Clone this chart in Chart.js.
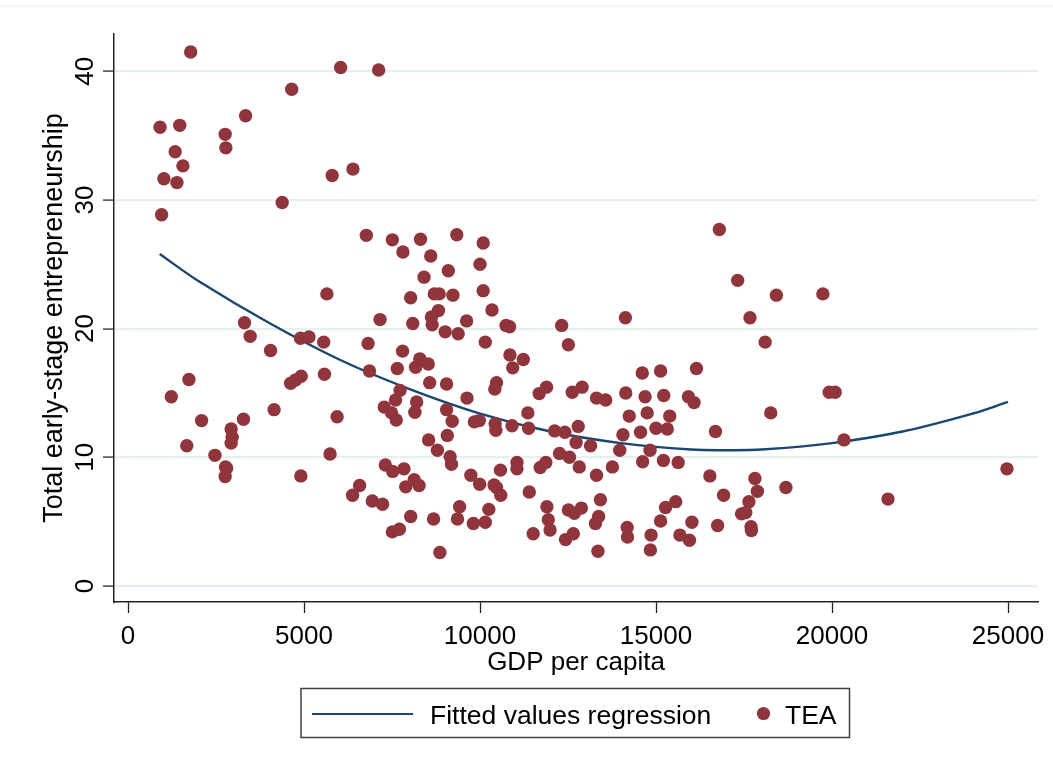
<!DOCTYPE html>
<html>
<head>
<meta charset="utf-8">
<script src="https://cdn.jsdelivr.net/npm/chart.js@4.4.1/dist/chart.umd.min.js"></script>
<style>
  html, body { margin: 0; padding: 0; background: #ffffff; }
  #wrap { width: 1053px; height: 764px; }
</style>
</head>
<body>
<div id="wrap"><canvas id="c" width="1053" height="764"></canvas></div>
<script>
// ---- data ----
const gdp = [
  1780, 6040, 7120, 4650, 910, 1470, 3340, 2760, 2780, 1340,
  1560, 1020, 1390, 5800, 6390, 4380, 955, 6770, 7510, 8310,
  7810, 8600, 8410, 8700, 8840, 8030, 5650, 9340, 9100, 9230,
  8820, 8620, 8640, 7160, 8090, 9010, 9380, 4900, 5140, 5560,
  6820, 7800, 8290, 8170, 8530, 7650, 6860, 4620, 4760, 4920,
  5580, 8570, 9050, 7730, 7600, 8200, 7280, 7490, 7620, 8150,
  9050, 9210, 5940, 8540, 8790, 9070, 9150, 9190, 5740, 4910,
  7310, 7520, 7840, 8130, 8270, 7890, 6580, 6380, 6940, 7230,
  8030, 8680, 9360, 9420, 7510, 7710, 8860, 3310, 3470, 4050,
  1730, 1230, 2090, 1670, 3280, 2930, 2960, 2930, 2470, 2770,
  2800, 2760, 4150, 10090, 10000, 10090, 10340, 9620, 10740, 10840,
  10150, 12320, 12510, 14130, 16800, 10850, 11230, 10930, 10470, 10420,
  9630, 11680, 11890, 12620, 12900, 13310, 13570, 14140, 14610, 15130,
  14690, 15220, 16150, 15920, 16080, 11360, 14240, 14750, 15390, 9840,
  9980, 10430, 10450, 10910, 11380, 12120, 12410, 12790, 12730, 13140,
  14060, 14560, 15000, 15320, 13970, 14830, 14620, 15210, 15630, 16690,
  16530, 16920, 16750, 9740, 9990, 10580, 10400, 10470, 10590, 11050,
  11050, 11710, 11870, 12260, 12540, 12820, 13310, 13760, 11400, 10250,
  9810, 10150, 11900, 11940, 11990, 11510, 12510, 12680, 12880, 12430,
  12650, 13420, 13370, 13280, 13350, 14180, 14190, 14860, 14840, 15130,
  15270, 15560, 15680, 15950, 16020, 17320, 18420, 19740, 17670, 18100,
  19920, 20090, 18260, 20340, 24970, 17810, 17880, 17640, 18690, 17430,
  17550, 17700, 17710, 21590
];
const tea = [
  41.5, 40.3, 40.1, 38.6, 35.65, 35.8, 36.55, 35.1, 34.05, 33.75,
  32.65, 31.65, 31.35, 31.9, 32.4, 29.8, 28.85, 27.25, 26.9, 26.95,
  25.95, 25.65, 24.0, 22.7, 22.7, 22.4, 22.7, 27.3, 24.5, 22.6,
  21.4, 20.9, 20.3, 20.7, 20.4, 19.75, 19.6, 19.25, 19.35, 18.95,
  18.85, 18.25, 17.65, 17.0, 17.25, 16.9, 16.7, 15.75, 16.0, 16.3,
  16.45, 15.8, 15.7, 15.2, 14.45, 14.3, 13.9, 13.45, 12.9, 13.5,
  13.7, 12.8, 13.15, 11.35, 10.55, 11.7, 10.05, 9.45, 10.25, 8.55,
  9.4, 8.9, 9.1, 8.25, 7.8, 7.7, 7.8, 7.05, 6.6, 6.35,
  5.4, 5.2, 5.2, 6.15, 4.2, 4.4, 2.6, 20.45, 19.4, 18.3,
  16.05, 14.7, 12.85, 10.9, 12.95, 12.2, 11.55, 11.1, 10.15, 9.25,
  9.15, 8.5, 13.7, 26.65, 25.0, 22.95, 21.45, 20.6, 20.25, 20.15,
  18.95, 20.25, 18.75, 20.85, 27.7, 17.95, 17.6, 16.95, 15.8, 15.3,
  14.6, 14.95, 15.45, 15.05, 15.45, 14.6, 14.45, 15.0, 16.55, 16.7,
  14.7, 14.8, 16.9, 14.7, 14.25, 13.45, 13.2, 13.45, 13.2, 12.75,
  12.85, 12.6, 12.1, 12.45, 12.25, 12.05, 11.95, 12.4, 11.15, 10.9,
  11.75, 11.95, 12.25, 12.2, 10.55, 10.55, 9.65, 9.75, 9.6, 12.0,
  8.55, 7.05, 4.7, 8.6, 7.9, 9.0, 7.85, 7.65, 7.05, 9.6,
  9.1, 9.2, 9.6, 10.3, 10.0, 9.25, 8.6, 9.25, 7.3, 5.95,
  4.85, 4.95, 6.15, 5.15, 4.35, 4.05, 5.9, 5.65, 6.05, 3.6,
  4.05, 6.7, 5.4, 4.85, 2.7, 4.55, 3.8, 3.95, 2.8, 5.05,
  6.1, 6.55, 3.95, 3.55, 4.95, 23.75, 22.6, 22.7, 20.85, 18.95,
  15.05, 15.05, 13.45, 11.35, 9.1, 8.35, 7.35, 6.55, 7.65, 5.6,
  5.7, 4.6, 4.3, 6.75
];
const fitX = [900, 2000, 4000, 6000, 8000, 10000, 12000, 14000, 16000, 17000, 18000, 20000, 22000, 24000, 25000];
const fitY = [25.8, 23.7, 20.45, 17.6, 15.3, 13.4, 12.0, 11.1, 10.6, 10.55, 10.6, 11.1, 12.0, 13.4, 14.3];
const xTicks = [0, 5000, 10000, 15000, 20000, 25000];
const yTicks = [0, 10, 20, 30, 40];
const xTitle = 'GDP per capita';
const yTitle = 'Total early-stage entrepreneurship';
const lineLabel = 'Fitted values regression';
const dotLabel = 'TEA';

// ---- styles ----
const DOT = '#90353b';
const LINE = '#1a476f';
const FONT = '"Liberation Sans", Arial, Helvetica, sans-serif';

const scatterPts = gdp.map((g, i) => ({ x: g, y: tea[i] }));
const fitPts = fitX.map((g, i) => ({ x: g, y: fitY[i] }));

const textPlugin = {
  id: 'stataText',
  beforeDraw(chart) {
    const ctx = chart.ctx;
    ctx.save();
    ctx.fillStyle = '#ffffff';
    ctx.fillRect(0, 0, chart.width, chart.height);
    ctx.strokeStyle = '#edf3f4';
    ctx.lineWidth = 1.5;
    ctx.beginPath();
    ctx.moveTo(0, 6);
    ctx.lineTo(chart.width, 6);
    ctx.stroke();
    ctx.restore();
  },
  afterDraw(chart) {
    const ctx = chart.ctx;
    const xs = chart.scales.x, ys = chart.scales.y;
    const area = chart.chartArea;
    ctx.save();
    ctx.fillStyle = '#000000';
    ctx.font = '26px ' + FONT;
    // x tick labels
    ctx.textAlign = 'center';
    ctx.textBaseline = 'alphabetic';
    xTicks.forEach(v => ctx.fillText(String(v), xs.getPixelForValue(v), 644));
    // x title
    ctx.fillText(xTitle, (area.left + area.right) / 2, 670);
    // y tick labels (rotated)
    yTicks.forEach(v => {
      ctx.save();
      ctx.translate(92.5, ys.getPixelForValue(v));
      ctx.rotate(-Math.PI / 2);
      ctx.textAlign = 'center';
      ctx.fillText(String(v), 0, 0);
      ctx.restore();
    });
    // y title
    ctx.save();
    ctx.font = '27px ' + FONT;
    ctx.translate(62, (area.top + area.bottom) / 2);
    ctx.rotate(-Math.PI / 2);
    ctx.textAlign = 'center';
    ctx.fillText(yTitle, 0, 0);
    ctx.restore();
    // legend box
    ctx.strokeStyle = '#404040';
    ctx.lineWidth = 1.5;
    ctx.strokeRect(301, 688.5, 548.5, 49);
    ctx.strokeStyle = LINE;
    ctx.lineWidth = 2.2;
    ctx.beginPath();
    ctx.moveTo(312, 714);
    ctx.lineTo(413, 714);
    ctx.stroke();
    ctx.textAlign = 'left';
    ctx.fillStyle = '#000000';
    ctx.font = '26.5px ' + FONT;
    ctx.fillText(lineLabel, 430, 724);
    ctx.fillStyle = DOT;
    ctx.beginPath();
    ctx.arc(763.5, 713.5, 6.6, 0, Math.PI * 2);
    ctx.fill();
    ctx.fillStyle = '#000000';
    ctx.fillText(dotLabel, 785, 724);
    ctx.restore();
  }
};

new Chart(document.getElementById('c'), {
  type: 'scatter',
  data: {
    datasets: [
      {
        type: 'scatter',
        label: dotLabel,
        data: scatterPts,
        backgroundColor: DOT,
        borderColor: DOT,
        borderWidth: 0,
        pointRadius: 6.7,
        pointHoverRadius: 6.7,
        order: 0
      },
      {
        type: 'line',
        label: lineLabel,
        data: fitPts,
        borderColor: LINE,
        backgroundColor: LINE,
        borderWidth: 2.4,
        pointRadius: 0,
        tension: 0.35,
        fill: false,
        order: 1
      }
    ]
  },
  options: {
    responsive: false,
    devicePixelRatio: 1,
    animation: false,
    layout: { padding: { left: 0, right: 15, top: 34, bottom: 0 } },
    plugins: {
      legend: { display: false },
      tooltip: { enabled: false }
    },
    scales: {
      x: {
        type: 'linear',
        min: -398,
        max: 25852,
        afterBuildTicks: s => { s.ticks = xTicks.map(v => ({ value: v })); },
        afterFit: s => { s.height = 162; },
        ticks: { display: false },
        grid: { drawOnChartArea: false, drawTicks: true, tickLength: 11, tickColor: '#222222', tickWidth: 1.3 },
        border: { display: true, color: '#222222', width: 1.5 }
      },
      y: {
        type: 'linear',
        min: -1.25,
        max: 42.9,
        afterBuildTicks: s => { s.ticks = yTicks.map(v => ({ value: v })); },
        afterFit: s => { s.width = 114; },
        ticks: { display: false },
        grid: { drawOnChartArea: true, color: '#e8eff1', lineWidth: 2.2, drawTicks: true, tickLength: 11, tickColor: '#444444', tickWidth: 1.5 },
        border: { display: true, color: '#222222', width: 1.5 }
      }
    }
  },
  plugins: [textPlugin]
});
</script>
</body>
</html>
